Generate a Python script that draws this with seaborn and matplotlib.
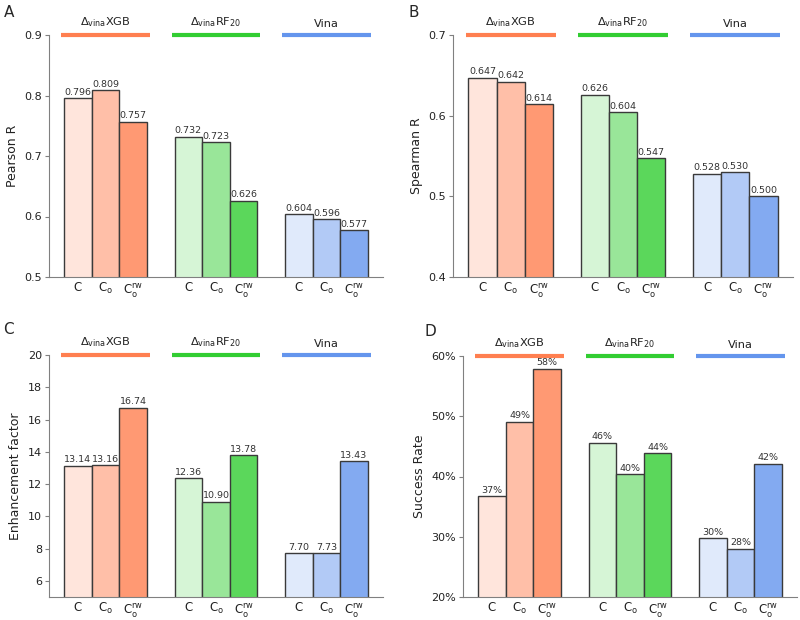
import seaborn as sns
import matplotlib.pyplot as plt
import matplotlib.colors as mcolors
import pandas as pd
from matplotlib.ticker import PercentFormatter

# data
models = ['XGB', 'RF', 'Vina']
model_labels = [r'$\Delta_{\rm vina}$XGB', r'$\Delta_{\rm vina}$RF$_{20}$', 'Vina']
sets = ['C', 'Co', 'Crw']
set_labels = ['C', r'C$_{\rm o}$', r'C$_{\rm o}^{\rm rw}$']

pearson = [0.796, 0.809, 0.757, 0.732, 0.723, 0.626, 0.604, 0.596, 0.577]
spearman = [0.647, 0.642, 0.614, 0.626, 0.604, 0.547, 0.528, 0.530, 0.500]
enhancement = [13.14, 13.16, 16.74, 12.36, 10.90, 13.78, 7.70, 7.73, 13.43]
success = [0.367, 0.491, 0.579, 0.456, 0.404, 0.439, 0.298, 0.280, 0.421]

base_colors = {'XGB': 'coral', 'RF': 'limegreen', 'Vina': 'cornflowerblue'}
alphas = {'C': 0.2, 'Co': 0.5, 'Crw': 0.8}


def tint(c, a):
    r, g, b = mcolors.to_rgb(c)
    return (1 - a + a * r, 1 - a + a * g, 1 - a + a * b)


slots = [f'{m}|{s}' for m in models for s in sets]
order = slots[0:3] + ['gap1'] + slots[3:6] + ['gap2'] + slots[6:9]
palette = {f'{m}|{s}': tint(base_colors[m], alphas[s]) for m in models for s in sets}

sns.set_style('ticks')
plt.rcParams['font.family'] = ['DejaVu Sans']

fig = plt.figure(figsize=(8, 6.2), dpi=100)
W, H = 800, 620


def rect(l, t, r, b):
    return [l / W, 1 - b / H, (r - l) / W, (b - t) / H]


panels = [
    ('A', pearson, 'Pearson R', (0.5, 0.9), [0.5, 0.6, 0.7, 0.8, 0.9], '{:.3f}', rect(49, 35, 383, 277), (4, 5)),
    ('B', spearman, 'Spearman R', (0.4, 0.7), [0.4, 0.5, 0.6, 0.7], '{:.3f}', rect(453, 35, 793, 277), (408, 5)),
    ('C', enhancement, 'Enhancement factor', (5, 20), [6, 8, 10, 12, 14, 16, 18, 20], '{:.2f}', rect(49, 355, 383, 597), (3, 322)),
    ('D', success, 'Success Rate', (0.2, 0.6), [0.2, 0.3, 0.4, 0.5, 0.6], None, rect(463, 356, 797, 597), (425, 324)),
]

for letter, vals, ylabel, ylim, yticks, fmt, pos, lpos in panels:
    ax = fig.add_axes(pos)
    df = pd.DataFrame({'slot': slots, 'value': vals})
    sns.barplot(data=df, x='slot', y='value', hue='slot', order=order, palette=palette,
                saturation=1, legend=False, width=1.0, edgecolor='#3a3a3a', linewidth=1.0, ax=ax)
    ax.set_xlim(-1.05, 11.05)
    ax.set_ylim(*ylim)
    ax.set_yticks(yticks)
    ax.set_xticks([0, 1, 2, 4, 5, 6, 8, 9, 10])
    ax.set_xticklabels(set_labels * 3, fontsize=8.5, color='#222222')
    ax.tick_params(axis='x', length=0, pad=3)
    ax.tick_params(axis='y', labelsize=8, length=3, color='#808080', labelcolor='#222222', pad=2)
    ax.set_xlabel('')
    ax.set_ylabel(ylabel, fontsize=9, color='#222222', labelpad=4)
    sns.despine(ax=ax)
    for sp in ['left', 'bottom']:
        ax.spines[sp].set_color('#808080')
    if fmt is None:
        ax.yaxis.set_major_formatter(PercentFormatter(1.0, decimals=0))
    for cont in ax.containers:
        if fmt is None:
            labels = [f'{b.get_height() * 100:.0f}%' for b in cont]
        else:
            labels = [fmt.format(b.get_height()) for b in cont]
        ax.bar_label(cont, labels=labels, fontsize=6.8, color='#333333', padding=1)
    for i, m in enumerate(models):
        x0 = i * 4
        ax.plot([x0 - 0.6, x0 + 2.6], [ylim[1], ylim[1]], color=base_colors[m], lw=3,
                clip_on=False, solid_capstyle='butt')
        ax.annotate(model_labels[i], xy=(x0 + 1, ylim[1]), xytext=(0, 4),
                    textcoords='offset points', ha='center', va='bottom', fontsize=8.2,
                    color='#222222')
    fig.text(lpos[0] / W, 1 - lpos[1] / H, letter, fontsize=11, ha='left', va='top')

fig.savefig('out.png', dpi=100)
